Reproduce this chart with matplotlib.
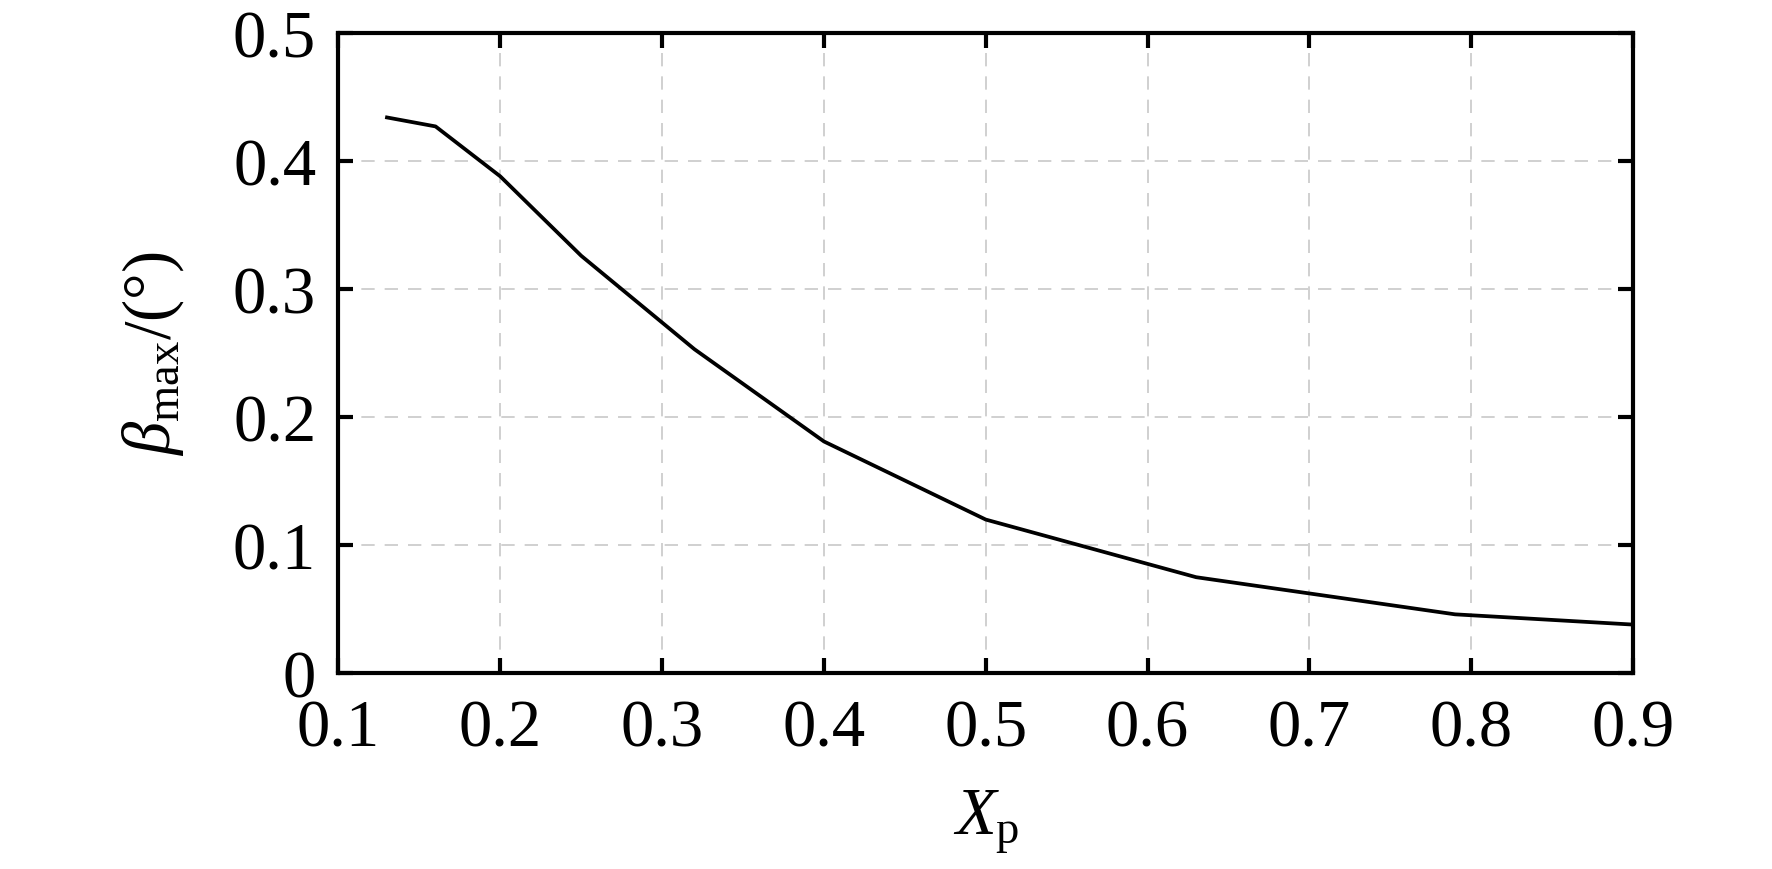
import matplotlib
matplotlib.use('Agg')
import matplotlib.pyplot as plt

# values
x_p = [0.13, 0.16, 0.20, 0.25, 0.32, 0.40, 0.50, 0.63, 0.79, 0.90]
beta_max = [0.434, 0.427, 0.388, 0.326, 0.253, 0.181, 0.120, 0.075, 0.046, 0.038]

x_ticks = [0.1, 0.2, 0.3, 0.4, 0.5, 0.6, 0.7, 0.8, 0.9]
x_ticklabels = ['0.1', '0.2', '0.3', '0.4', '0.5', '0.6', '0.7', '0.8', '0.9']
y_ticks = [0, 0.1, 0.2, 0.3, 0.4, 0.5]
y_ticklabels = ['0', '0.1', '0.2', '0.3', '0.4', '0.5']

plt.rcParams['font.family'] = ['Liberation Serif', 'DejaVu Serif']
plt.rcParams['mathtext.fontset'] = 'custom'
plt.rcParams['mathtext.rm'] = 'Liberation Serif'
plt.rcParams['mathtext.it'] = 'Liberation Serif:italic'
plt.rcParams['mathtext.bf'] = 'Liberation Serif:bold'

fig = plt.figure(figsize=(17.72, 8.70), dpi=100)
ax = fig.add_axes([0.191, 0.225, 0.7306, 0.736])

ax.plot(x_p, beta_max, color='black', linewidth=2.7, zorder=3)

ax.set_xlim(0.1, 0.9)
ax.set_ylim(0, 0.5)
ax.set_xticks(x_ticks)
ax.set_xticklabels(x_ticklabels)
ax.set_yticks(y_ticks)
ax.set_yticklabels(y_ticklabels)

ax.grid(True, color='#c8c8c8', linestyle=(0, (8, 6)), linewidth=1.2)
ax.set_axisbelow(True)

for s in ax.spines.values():
    s.set_linewidth(3.0)

ax.tick_params(direction='in', length=11, width=3.0, labelsize=48,
               top=True, right=True)
ax.tick_params(axis='x', pad=18)
ax.tick_params(axis='y', pad=16)

ax.set_xlabel(r'$X_{\mathrm{p}}$', fontsize=48, labelpad=20)
ax.set_ylabel(r'$\beta_{\mathrm{max}}$/(°)', fontsize=48, labelpad=34)

fig.savefig('out.png', dpi=100)
